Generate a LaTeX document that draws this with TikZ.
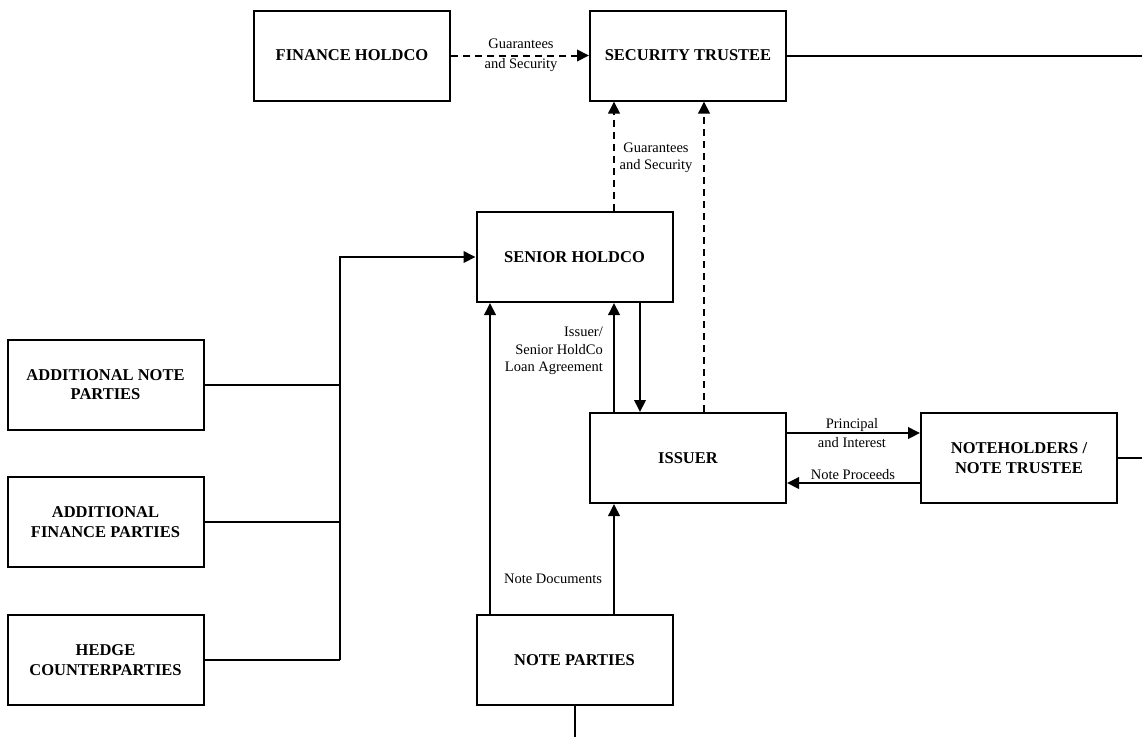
\documentclass[tikz,border=0pt]{standalone}
\usepackage{fontspec}
\setmainfont{Liberation Serif}
\usetikzlibrary{arrows.meta}
\begin{document}
\begin{tikzpicture}[x=1pt,y=-1pt,
  box/.style={draw,line width=2pt,minimum width=196pt,minimum height=90pt,inner sep=0pt,align=center,font=\fontsize{16.5}{19.5}\selectfont\bfseries},
  conn/.style={line width=2pt},
  arr/.style={conn,-{Triangle[length=12pt,width=11.5pt]}},
  darr/.style={arr,dash pattern=on 7pt off 5pt},
  lbl/.style={font=\fontsize{14.5}{17.5}\selectfont,inner sep=1pt,align=center}]
\useasboundingbox (0,0) rectangle (1142,737);
\node[box] (fh) at (352,55.5) {FINANCE HOLDCO};
\node[box] (st) at (688,55.5) {SECURITY TRUSTEE};
\node[box] (sh) at (574.5,257) {SENIOR HOLDCO};
\node[box] (is) at (688,458) {ISSUER};
\node[box] (nh) at (1019,458) {NOTEHOLDERS /\\NOTE TRUSTEE};
\node[box] (anp) at (105.5,384.5) {ADDITIONAL NOTE\\PARTIES};
\node[box] (afp) at (105.5,522) {ADDITIONAL\\FINANCE PARTIES};
\node[box] (hc) at (105.5,660) {HEDGE\\COUNTERPARTIES};
\node[box] (np) at (574.5,660) {NOTE PARTIES};
\coordinate (stout) at (1142,55.5);
\coordinate (nhout) at (1142,458);
\coordinate (npout) at (575,737);
\coordinate (bustop) at (340,257);
\coordinate (busbot) at (340,660);
% top
\draw[darr] (fh.east) -- (st.west);
\node[lbl,font=\fontsize{14.5}{19.5}\selectfont] (lg1) at (521,55.5) {Guarantees\\and Security};
\draw[conn] (st.east) -- (stout);
\draw[darr] (sh.north -| 614,0) -- (st.south -| 614,0);
\node[lbl] (lg2) at (656,158) {Guarantees\\and Security};
\draw[darr] (is.north -| 704,0) -- (st.south -| 704,0);
% bus
\draw[conn] (anp.east) -- (anp.east -| bustop);
\draw[conn] (afp.east) -- (afp.east -| bustop);
\draw[conn] (hc.east) -- (busbot);
\draw[arr] (busbot) -- (bustop) -- (sh.west);
% senior holdco / issuer
\draw[arr] (np.north -| 490,0) -- (sh.south -| 490,0);
\draw[arr] (is.north -| 614,0) -- (sh.south -| 614,0);
\draw[arr] (sh.south -| 640,0) -- (is.north -| 640,0);
\node[lbl,anchor=east,align=right] (lloan) at (604,351) {Issuer/\\Senior HoldCo\\Loan Agreement};
% issuer / noteholders
\draw[arr] (is.east |- 0,433) -- (nh.west |- 0,433);
\node[lbl,font=\fontsize{14.5}{18.5}\selectfont] (lpi) at (852,433) {Principal\\and Interest};
\draw[arr] (nh.west |- 0,483) -- (is.east |- 0,483);
\node[lbl,anchor=south] (lnp) at (853,481) {Note Proceeds};
\draw[conn] (nh.east) -- (nhout);
% note parties
\draw[arr] (np.north -| 614,0) -- (is.south -| 614,0);
\node[lbl] (lnd) at (553,579) {Note Documents};
\draw[conn] (np.south -| npout) -- (npout);
\end{tikzpicture}
\end{document}
